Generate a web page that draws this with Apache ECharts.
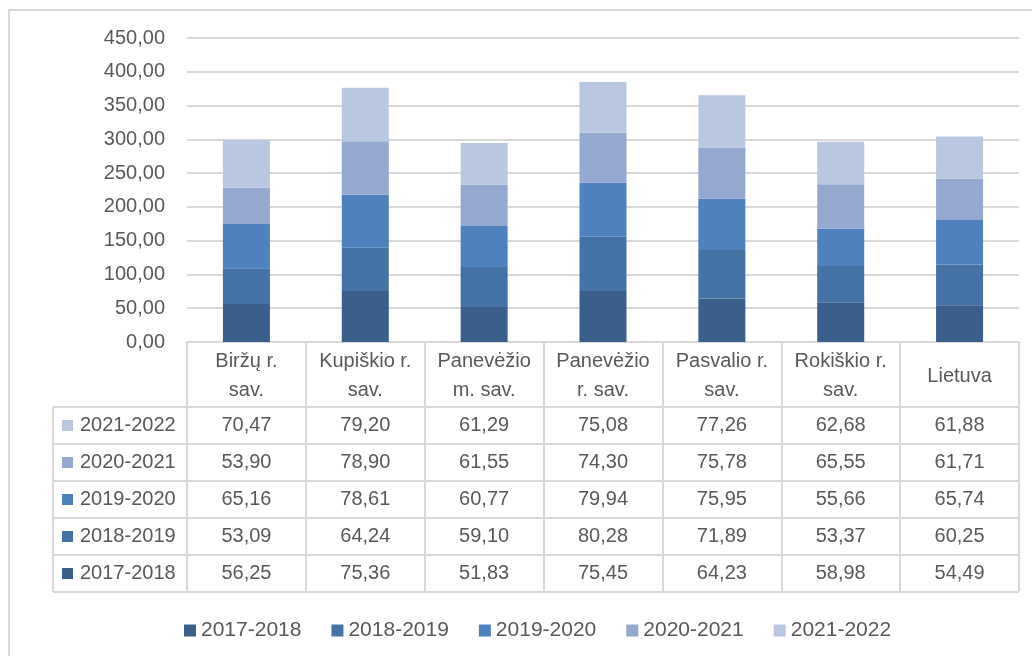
<!DOCTYPE html>
<html>
<head>
<meta charset="utf-8">
<script src="https://cdn.jsdelivr.net/npm/echarts@6/dist/echarts.min.js"></script>
<style>
  html, body { margin: 0; padding: 0; background: #fff; }
  #chart { width: 1032px; height: 656px; }
</style>
</head>
<body>
<div id="chart"></div>
<script>
// data
var categories = ['Biržų r.\nsav.', 'Kupiškio r.\nsav.', 'Panevėžio\nm. sav.', 'Panevėžio\nr. sav.', 'Pasvalio r.\nsav.', 'Rokiškio r.\nsav.', 'Lietuva'];
var seriesNames = ['2017-2018', '2018-2019', '2019-2020', '2020-2021', '2021-2022'];
var s2017 = [56.25, 75.36, 51.83, 75.45, 64.23, 58.98, 54.49];
var s2018 = [53.09, 64.24, 59.10, 80.28, 71.89, 53.37, 60.25];
var s2019 = [65.16, 78.61, 60.77, 79.94, 75.95, 55.66, 65.74];
var s2020 = [53.90, 78.90, 61.55, 74.30, 75.78, 65.55, 61.71];
var s2021 = [70.47, 79.20, 61.29, 75.08, 77.26, 62.68, 61.88];
var yTicks = [0, 50, 100, 150, 200, 250, 300, 350, 400, 450];

var seriesData = [s2017, s2018, s2019, s2020, s2021];
var colors = ['#3a5f8b', '#4472a4', '#4e81bd', '#95a9d0', '#bac7e0'];
var textColor = '#595959';
var lineColor = '#d9d9d9';
var font = 'Liberation Sans';

function fmt(v) {
    return v.toFixed(2).replace('.', ',');
}

// table geometry
var gridLeft = 187, gridRight = 1019, axisY = 342;
var rowTop = 407, rowH = 37;
var tableLeft = 53;

var chart = echarts.init(document.getElementById('chart'));

// table rows: top row is the last series
var xAxes = [{
    type: 'category',
    data: categories,
    position: 'bottom',
    axisLine: { show: true, lineStyle: { color: lineColor, width: 2 } },
    axisTick: { show: true, length: 591 - axisY, lineStyle: { color: lineColor, width: 2 } },
    axisLabel: {
        interval: 0,
        margin: 34,
        verticalAlign: 'middle',
        lineHeight: 29,
        color: textColor,
        fontFamily: font,
        fontSize: 20
    }
}];
var graphics = [{
    type: 'rect',
    shape: { x: 9, y: 10, width: 1200, height: 800 },
    style: { fill: 'none', stroke: lineColor, lineWidth: 2 },
    silent: true
}];
for (var r = 0; r < 5; r++) {
    var si = 4 - r;
    var cy = rowTop + rowH * r + rowH / 2;
    xAxes.push({
        type: 'category',
        data: seriesData[si].map(fmt),
        position: 'bottom',
        offset: 0,
        axisLine: { show: false },
        axisTick: { show: false },
        axisLabel: {
            interval: 0,
            margin: cy - axisY,
            verticalAlign: 'middle',
            color: textColor,
            fontFamily: font,
            fontSize: 20
        }
    });
    graphics.push({
        type: 'rect',
        shape: { x: 62, y: cy - 5.5, width: 11, height: 11 },
        style: { fill: colors[si] },
        silent: true
    });
    graphics.push({
        type: 'text',
        x: 80, y: cy,
        style: {
            text: seriesNames[si],
            fill: textColor,
            font: '20px "' + font + '"',
            textVerticalAlign: 'middle',
            verticalAlign: 'middle'
        },
        silent: true
    });
}
// horizontal table lines
for (var k = 0; k <= 5; k++) {
    graphics.push({
        type: 'line',
        shape: { x1: tableLeft, y1: rowTop + rowH * k, x2: gridRight, y2: rowTop + rowH * k },
        style: { stroke: lineColor, lineWidth: 2 },
        silent: true
    });
}
graphics.push({
    type: 'line',
    shape: { x1: tableLeft, y1: rowTop, x2: tableLeft, y2: rowTop + rowH * 5 },
    style: { stroke: lineColor, lineWidth: 2 },
    silent: true
});

var option = {
    animation: false,
    backgroundColor: '#fff',
    color: colors,
    textStyle: { fontFamily: font },
    grid: {
        left: gridLeft,
        right: 1032 - gridRight,
        top: 38,
        bottom: 656 - axisY,
        containLabel: false
    },
    legend: {
        left: 179,
        top: 615,
        itemWidth: 12,
        itemHeight: 12,
        itemGap: 30,
        icon: 'rect',
        textStyle: { color: textColor, fontFamily: font, fontSize: 21 },
        data: seriesNames
    },
    xAxis: xAxes,
    yAxis: {
        type: 'value',
        min: yTicks[0],
        max: yTicks[yTicks.length - 1],
        interval: 50,
        axisLine: { show: false },
        axisTick: { show: false },
        axisLabel: {
            margin: 22,
            color: textColor,
            fontFamily: font,
            fontSize: 20,
            formatter: function (v) { return fmt(v); }
        },
        splitLine: { lineStyle: { color: lineColor, width: 2 } }
    },
    graphic: graphics,
    series: seriesNames.map(function (name, i) {
        return {
            name: name,
            type: 'bar',
            stack: 'total',
            barWidth: 47,
            data: seriesData[i],
            itemStyle: { color: colors[i] }
        };
    })
};
chart.setOption(option);
</script>
</body>
</html>
